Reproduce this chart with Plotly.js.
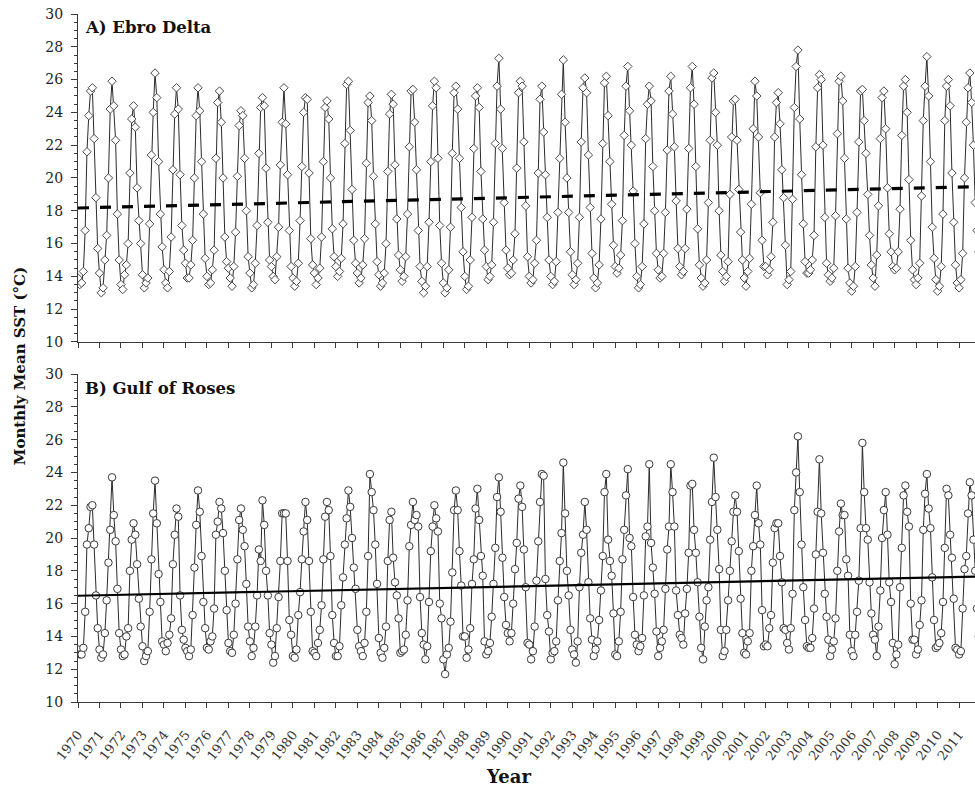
<!DOCTYPE html>
<html>
<head>
<meta charset="utf-8">
<script src="https://cdn.plot.ly/plotly-3.0.1.min.js"></script>
<style>
  html, body { margin: 0; padding: 0; background: #fff; }
  #chart { width: 975px; height: 788px; }
</style>
</head>
<body>
<div id="chart"></div>
<script>
// Monthly mean sea surface temperature (°C), January 1970 – December 2011, one row per year (Jan..Dec)
const startYear = 1970;

const ebroSST = [
  13.9, 13.5, 13.6, 14.3, 16.8, 21.6, 23.8, 25.3, 25.5, 22.4, 18.8, 15.7, // 1970
  14.2, 13.0, 13.3, 15.0, 16.5, 20.0, 24.2, 25.9, 24.4, 22.3, 17.8, 15.0, // 1971
  13.5, 13.2, 14.1, 14.7, 16.0, 20.3, 23.6, 24.4, 23.1, 19.4, 17.4, 16.0, // 1972
  14.1, 13.3, 13.6, 13.9, 17.2, 21.4, 24.0, 26.4, 24.9, 21.0, 17.8, 15.8, // 1973
  14.4, 13.6, 13.3, 14.3, 16.4, 20.5, 23.9, 25.5, 24.2, 20.2, 17.1, 15.6, // 1974
  14.8, 13.9, 13.9, 14.7, 16.2, 20.0, 23.8, 25.5, 24.1, 21.0, 17.8, 15.1, // 1975
  14.0, 13.5, 13.6, 14.4, 15.6, 21.2, 24.6, 25.3, 23.4, 20.0, 16.4, 14.9, // 1976
  14.5, 13.9, 13.4, 14.6, 16.7, 20.1, 23.2, 24.1, 23.8, 21.2, 18.0, 15.2, // 1977
  14.2, 13.3, 13.5, 14.8, 17.1, 21.5, 24.3, 24.9, 24.4, 20.6, 17.3, 15.0, // 1978
  14.6, 14.0, 13.8, 15.2, 17.0, 20.8, 23.4, 25.5, 23.3, 20.2, 16.8, 14.6, // 1979
  13.9, 13.4, 13.7, 14.8, 17.4, 20.7, 24.0, 24.9, 24.8, 20.3, 16.3, 14.7, // 1980
  14.2, 13.5, 13.9, 14.5, 16.4, 21.0, 24.3, 24.7, 23.6, 20.0, 16.9, 15.2, // 1981
  14.6, 14.0, 14.3, 15.1, 17.2, 22.1, 25.7, 25.9, 22.9, 19.3, 16.2, 14.8, // 1982
  14.2, 13.6, 13.9, 14.7, 16.3, 20.9, 24.6, 25.0, 23.5, 20.1, 17.2, 14.9, // 1983
  14.1, 13.4, 13.6, 14.2, 16.0, 20.4, 23.9, 25.1, 24.5, 20.8, 17.5, 15.3, // 1984
  14.4, 13.7, 14.0, 15.2, 17.8, 21.9, 25.3, 25.4, 23.4, 20.5, 16.8, 14.6, // 1985
  13.7, 13.0, 13.4, 14.6, 17.3, 21.0, 24.4, 25.9, 25.5, 21.2, 17.1, 14.8, // 1986
  13.6, 13.0, 13.3, 14.4, 17.0, 21.5, 25.2, 25.6, 24.2, 21.2, 18.2, 15.5, // 1987
  14.0, 13.2, 13.4, 15.0, 17.6, 21.8, 25.0, 25.5, 24.3, 20.4, 17.5, 15.6, // 1988
  14.6, 13.8, 14.0, 14.7, 17.3, 22.1, 25.6, 27.3, 24.2, 21.8, 18.5, 15.6, // 1989
  14.5, 14.1, 14.2, 15.0, 16.6, 20.6, 25.2, 25.9, 25.6, 22.2, 18.3, 15.2, // 1990
  14.0, 13.6, 13.8, 14.8, 16.2, 20.3, 24.8, 25.6, 22.8, 20.2, 17.6, 15.0, // 1991
  14.0, 13.5, 13.7, 14.9, 17.9, 21.2, 25.1, 27.2, 23.4, 20.0, 17.9, 15.5, // 1992
  14.1, 13.5, 13.8, 14.8, 17.6, 22.2, 25.5, 26.1, 25.2, 21.4, 18.2, 15.4, // 1993
  13.9, 13.3, 13.6, 14.7, 17.5, 22.1, 25.8, 26.2, 23.8, 21.0, 18.4, 15.9, // 1994
  14.6, 14.2, 14.5, 15.3, 17.4, 22.6, 25.6, 26.8, 24.1, 22.0, 19.2, 16.0, // 1995
  14.0, 13.3, 13.5, 14.6, 17.2, 22.4, 24.5, 25.6, 24.7, 20.7, 18.0, 15.4, // 1996
  14.4, 13.9, 14.0, 15.4, 17.9, 21.7, 25.3, 26.2, 23.9, 21.9, 18.6, 15.7, // 1997
  14.6, 14.1, 14.3, 15.7, 18.1, 21.8, 25.5, 26.8, 24.5, 20.7, 16.9, 14.7, // 1998
  13.9, 13.4, 13.6, 15.0, 18.5, 22.3, 26.1, 26.4, 24.0, 22.0, 18.0, 15.3, // 1999
  14.3, 13.7, 14.0, 14.9, 19.0, 22.5, 24.7, 24.8, 22.3, 19.3, 16.7, 15.0, // 2000
  13.9, 13.4, 14.3, 15.1, 18.4, 23.0, 25.9, 25.0, 22.5, 19.1, 16.2, 14.6, // 2001
  14.6, 14.1, 14.4, 15.2, 17.3, 22.5, 24.6, 25.2, 23.3, 20.5, 18.8, 15.9, // 2002
  13.5, 13.8, 14.3, 18.7, 24.3, 26.8, 27.8, 23.6, 20.2, 17.2, 14.9, 14.2, // 2003
  14.2, 14.4, 15.0, 16.5, 21.9, 25.5, 26.3, 26.0, 22.0, 17.6, 14.8, 14.1, // 2004
  13.7, 13.9, 14.5, 17.7, 22.7, 25.9, 26.2, 24.7, 21.2, 17.5, 14.5, 13.6, // 2005
  13.1, 13.4, 14.6, 17.9, 22.2, 25.3, 25.4, 23.5, 21.5, 19.0, 16.5, 14.7, // 2006
  13.9, 13.4, 15.3, 18.3, 22.4, 24.9, 25.3, 23.0, 19.4, 16.6, 15.5, 14.6, // 2007
  14.4, 14.5, 15.5, 18.1, 22.6, 25.6, 26.0, 24.0, 19.9, 16.2, 14.4, 13.8, // 2008
  13.5, 13.9, 14.8, 18.9, 23.5, 25.6, 27.4, 25.0, 21.0, 17.0, 15.1, 13.8, // 2009
  13.1, 13.4, 14.6, 17.8, 23.5, 25.6, 26.0, 24.4, 20.3, 17.3, 14.7, 13.6, // 2010
  13.3, 13.8, 15.4, 20.0, 23.4, 25.5, 26.4, 24.6, 22.0, 18.5, 16.8, 15.5  // 2011
];

const gulfSST = [
  13.2, 12.9, 12.9, 13.3, 15.5, 19.6, 20.6, 21.9, 22.0, 19.6, 16.5, 14.5, // 1970
  13.2, 12.7, 12.9, 14.2, 16.2, 18.5, 20.5, 23.7, 21.4, 19.8, 16.9, 14.2, // 1971
  13.2, 12.8, 12.9, 14.0, 14.5, 18.0, 19.9, 20.9, 20.2, 18.4, 16.3, 14.6, // 1972
  13.4, 12.5, 12.8, 13.1, 15.5, 18.7, 21.5, 23.5, 20.9, 17.8, 16.1, 13.7, // 1973
  13.5, 13.1, 13.6, 14.1, 15.1, 18.4, 20.2, 21.8, 21.3, 16.5, 14.4, 13.8, // 1974
  13.3, 13.1, 12.8, 13.2, 15.3, 18.2, 20.8, 22.9, 21.6, 18.9, 16.1, 14.5, // 1975
  13.3, 13.2, 13.7, 14.0, 15.7, 20.2, 21.0, 22.2, 21.8, 20.3, 18.0, 15.6, // 1976
  13.6, 13.1, 13.0, 14.1, 16.0, 18.7, 21.1, 21.8, 20.5, 19.5, 17.2, 14.6, // 1977
  13.7, 12.8, 13.3, 14.6, 16.5, 19.3, 18.6, 22.3, 20.8, 18.0, 16.5, 14.2, // 1978
  13.5, 12.4, 12.8, 14.5, 16.4, 18.6, 21.5, 21.5, 21.5, 18.6, 15.0, 14.1, // 1979
  12.8, 12.7, 13.2, 15.3, 16.7, 18.7, 20.4, 22.2, 21.1, 18.6, 15.5, 13.1, // 1980
  13.0, 12.8, 13.6, 14.4, 15.9, 18.7, 21.3, 22.2, 21.7, 18.9, 15.3, 13.6, // 1981
  12.8, 12.8, 13.4, 15.9, 17.6, 19.6, 21.2, 22.9, 21.9, 20.0, 18.2, 16.9, // 1982
  14.4, 13.4, 13.1, 12.8, 13.6, 15.5, 18.9, 23.9, 22.8, 21.7, 19.6, 17.2, // 1983
  13.9, 13.0, 12.7, 13.3, 14.6, 18.6, 21.1, 21.6, 18.8, 17.3, 16.5, 15.1, // 1984
  13.0, 13.1, 13.2, 14.1, 16.2, 19.5, 20.8, 22.2, 21.1, 21.4, 20.7, 16.4, // 1985
  14.2, 13.5, 12.6, 13.4, 16.1, 19.2, 20.7, 22.0, 21.2, 20.4, 16.0, 15.1, // 1986
  12.6, 11.7, 12.9, 13.3, 14.9, 17.9, 21.7, 22.9, 21.7, 19.2, 17.1, 14.0, // 1987
  14.0, 12.7, 13.2, 14.5, 17.2, 18.7, 21.8, 23.0, 21.1, 18.9, 17.7, 13.7, // 1988
  12.9, 13.1, 13.6, 15.2, 17.2, 19.4, 22.5, 23.7, 21.6, 18.8, 16.4, 14.7, // 1989
  14.2, 13.7, 14.2, 16.0, 18.1, 19.7, 22.4, 23.2, 21.9, 19.3, 17.0, 13.6, // 1990
  13.5, 12.6, 13.1, 14.6, 17.4, 19.8, 22.2, 23.9, 23.8, 17.5, 15.3, 14.3, // 1991
  12.6, 13.0, 13.1, 13.7, 16.2, 18.6, 20.3, 24.6, 21.5, 18.0, 16.5, 14.4, // 1992
  13.2, 12.9, 12.4, 13.7, 17.0, 19.1, 20.2, 22.2, 20.5, 17.3, 15.1, 13.8, // 1993
  12.8, 13.2, 13.7, 15.0, 16.8, 18.9, 22.8, 23.9, 19.9, 18.6, 17.7, 15.4, // 1994
  12.9, 12.8, 13.7, 15.5, 18.7, 20.5, 22.6, 24.2, 20.0, 19.5, 16.4, 14.1, // 1995
  13.5, 13.1, 13.4, 13.9, 16.5, 20.1, 20.7, 24.5, 19.7, 18.2, 16.6, 14.3, // 1996
  12.8, 13.3, 13.7, 14.4, 16.9, 19.3, 20.7, 24.5, 22.8, 20.7, 16.8, 15.3, // 1997
  14.1, 13.9, 13.5, 15.4, 16.9, 19.1, 23.2, 23.3, 20.5, 19.1, 17.3, 15.2, // 1998
  13.3, 12.6, 14.6, 16.2, 17.0, 19.9, 22.2, 24.9, 22.5, 20.5, 18.1, 14.4, // 1999
  12.8, 13.1, 14.4, 16.2, 18.0, 19.8, 21.6, 22.6, 21.6, 19.2, 16.3, 14.2, // 2000
  13.0, 12.9, 13.7, 14.2, 18.0, 19.5, 21.4, 23.2, 20.9, 19.6, 15.6, 13.4, // 2001
  13.5, 13.4, 14.5, 15.3, 18.5, 20.6, 20.9, 20.9, 18.9, 17.3, 14.5, 14.4, // 2002
  13.6, 13.2, 14.5, 16.6, 21.7, 24.0, 26.2, 22.8, 19.6, 17.0, 15.0, 13.4, // 2003
  13.3, 13.3, 13.9, 15.7, 19.0, 21.6, 24.8, 21.5, 19.1, 16.6, 15.2, 13.8, // 2004
  12.8, 13.2, 13.7, 15.1, 18.0, 20.4, 22.1, 21.4, 21.4, 18.7, 17.7, 14.1, // 2005
  13.1, 12.8, 14.1, 15.5, 17.4, 20.6, 25.8, 22.8, 20.6, 19.9, 17.3, 15.4, // 2006
  14.1, 13.8, 12.8, 14.6, 16.8, 20.0, 21.7, 22.8, 20.2, 17.3, 16.1, 13.6, // 2007
  12.3, 12.9, 13.5, 17.0, 19.4, 22.6, 23.2, 21.6, 20.7, 16.0, 13.8, 13.8, // 2008
  12.9, 13.2, 14.7, 16.2, 20.5, 22.7, 23.9, 21.8, 20.6, 17.6, 15.0, 13.3, // 2009
  13.4, 13.6, 14.2, 16.1, 19.4, 23.0, 22.6, 20.2, 18.8, 16.3, 13.3, 13.2, // 2010
  12.9, 13.1, 15.7, 18.1, 18.9, 21.5, 23.4, 22.6, 19.9, 18.0, 15.7, 14.0  // 2011
];

// Linear trend lines (°C) at the start and end years
const trendYears = [1970, 2012];
const ebroTrend = [18.17, 19.48];
const gulfTrend = [16.48, 17.65];

// Year tick labels
const yearTicks = [];
for (let y = 1970; y <= 2011; y++) yearTicks.push(y);
const yearLabels = yearTicks.map(String);

// Decimal-year time coordinate for each monthly value
const monthTime = arr => arr.map((_, i) => startYear + i / 12);

const axisColor = '#3a3a3a';
const serif = 'DejaVu Serif, Liberation Serif, serif';
const xRange = [1970, 2011.74];

const traces = [
  {
    x: monthTime(ebroSST), y: ebroSST, xaxis: 'x2', yaxis: 'y2',
    type: 'scatter', mode: 'lines+markers',
    line: { color: '#2b2b2b', width: 1 },
    marker: { symbol: 'diamond', size: 6.5, color: '#ffffff', line: { color: '#4a4a4a', width: 1 } },
    hoverinfo: 'skip'
  },
  {
    x: trendYears, y: ebroTrend, xaxis: 'x2', yaxis: 'y2',
    type: 'scatter', mode: 'lines',
    line: { color: '#000000', width: 3.2, dash: '11px,11px' },
    hoverinfo: 'skip'
  },
  {
    x: monthTime(gulfSST), y: gulfSST, xaxis: 'x', yaxis: 'y',
    type: 'scatter', mode: 'lines+markers',
    line: { color: '#2b2b2b', width: 1 },
    marker: { symbol: 'circle', size: 7.5, color: '#ffffff', line: { color: '#3a3a3a', width: 1 } },
    hoverinfo: 'skip'
  },
  {
    x: trendYears, y: gulfTrend, xaxis: 'x', yaxis: 'y',
    type: 'scatter', mode: 'lines',
    line: { color: '#000000', width: 2.2 },
    hoverinfo: 'skip'
  }
];

const yAxisBase = {
  range: [10, 30], tickmode: 'linear', tick0: 10, dtick: 2,
  ticks: 'outside', ticklen: 6, tickwidth: 1, tickcolor: axisColor,
  minor: { dtick: 0.5, ticks: 'outside', ticklen: 3, tickwidth: 1, tickcolor: axisColor, showgrid: false },
  showline: true, linecolor: axisColor, linewidth: 1,
  showgrid: false, zeroline: false,
  ticklabelstandoff: 5,
  tickfont: { family: serif, size: 14, color: '#222222' }
};

const xAxisBase = {
  range: xRange, tickmode: 'array', tickvals: yearTicks, ticktext: yearLabels,
  ticks: 'outside', ticklen: 5, tickwidth: 1, tickcolor: axisColor,
  showline: true, linecolor: axisColor, linewidth: 1,
  showgrid: false, zeroline: false
};

const layout = {
  width: 975, height: 788,
  margin: { l: 78, r: 0, t: 14, b: 86 },
  paper_bgcolor: '#ffffff', plot_bgcolor: '#ffffff',
  showlegend: false,
  xaxis: Object.assign({}, xAxisBase, {
    domain: [0, 1], anchor: 'y',
    tickangle: -52,
    ticklabelstandoff: 14,
    tickfont: { family: serif, size: 13, color: '#333333' }
  }),
  yaxis: Object.assign({}, yAxisBase, { domain: [0, 0.4767], anchor: 'x' }),
  xaxis2: Object.assign({}, xAxisBase, { domain: [0, 1], anchor: 'y2', showticklabels: false }),
  yaxis2: Object.assign({}, yAxisBase, { domain: [0.5233, 1], anchor: 'x2' }),
  annotations: [
    {
      text: '<b>A) Ebro Delta</b>', xref: 'paper', yref: 'paper',
      x: 0.006, y: 0.98, xanchor: 'left', yanchor: 'middle', showarrow: false,
      font: { family: serif, size: 16.5, color: '#111111' }
    },
    {
      text: '<b>B) Gulf of Roses</b>', xref: 'paper', yref: 'paper',
      x: 0.006, y: 0.455, xanchor: 'left', yanchor: 'middle', showarrow: false,
      font: { family: serif, size: 16.5, color: '#111111' }
    },
    {
      text: '<b>Monthly Mean SST (°C)</b>', xref: 'paper', yref: 'paper',
      x: -0.0647, y: 0.488, xanchor: 'center', yanchor: 'middle', textangle: -90, showarrow: false,
      font: { family: serif, size: 15, color: '#111111' }
    },
    {
      text: '<b>Year</b>', xref: 'paper', yref: 'paper',
      x: 0.4794, y: -0.109, xanchor: 'center', yanchor: 'middle', showarrow: false,
      font: { family: serif, size: 18, color: '#111111' }
    }
  ]
};

Plotly.newPlot('chart', traces, layout, { staticPlot: true, displayModeBar: false });
</script>
</body>
</html>
